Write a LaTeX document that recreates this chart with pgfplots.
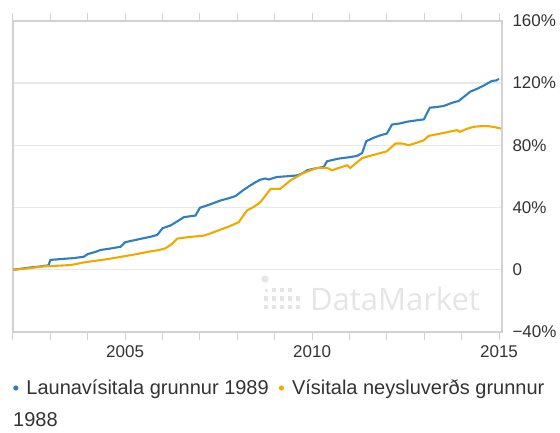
\documentclass[border=0pt]{standalone}
\usepackage{pgfplots}
\pgfplotsset{compat=1.18}
\usepackage{fontspec}
\setmainfont{Liberation Sans}
\newfontfamily\wmfont{Open Sans}
\definecolor{cblue}{RGB}{47,126,193}
\definecolor{corange}{RGB}{241,169,0}
\definecolor{gridc}{RGB}{232,232,232}
\definecolor{axc}{RGB}{210,210,210}
\definecolor{txt}{RGB}{51,51,51}
\definecolor{wm}{RGB}{229,229,229}
\begin{document}
\begin{tikzpicture}[x=1pt,y=1pt]
\begin{axis}[name=ax, at={(0pt,0pt)}, anchor=south west, scale only axis,
  width=489pt, height=311.3pt,
  xmin=2002, xmax=2015.08, ymin=-40, ymax=160,
  axis line style={axc, line width=1.6pt},
  ytick={-40,0,40,80,120,160}, yticklabels={−40\%,0,40\%,80\%,120\%,160\%},
  yticklabel pos=right, ymajorgrids, grid style={gridc, line width=1.2pt},
  ytick style={draw=none},
  xtick={2005,2010,2015}, xticklabels={2005,2010,2015},
  minor xtick={2002,2003,...,2015},
  tick align=outside, xtick style={axc, line width=1pt},
  major tick length=8pt, minor tick length=8pt,
  ticklabel style={font=\fontsize{17}{20}\selectfont, text=txt},
  yticklabel style={anchor=west, xshift=-1pt},
  xticklabel style={yshift=-2pt},
  legend columns=2,
  legend style={draw=none, fill=none, at={(0pt,-56pt)}, anchor=west,
    font=\fontsize{20}{24}\selectfont, text=txt, inner sep=0pt,
    /tikz/every odd column/.append style={column sep=6pt},
    /tikz/every even column/.append style={column sep=8pt}},
  legend cell align=left,
  legend image code/.code={\fill[#1,draw=none] (3pt,0pt) circle (2.6pt);},
]
\addplot[cblue, line width=2.1pt] coordinates {
(2002.00,0) (2002.20,0.6) (2002.47,1.5) (2002.70,2.0) (2002.87,2.6) (2002.95,2.8)
(2003.00,6.3) (2003.30,6.9) (2003.63,7.5) (2003.90,8.4) (2004.00,10.1)
(2004.20,11.4) (2004.34,12.7) (2004.60,13.6) (2004.88,14.8) (2005.00,17.7)
(2005.25,19.0) (2005.50,20.3) (2005.70,21.3) (2005.86,22.4) (2006.00,26.7)
(2006.21,28.4) (2006.43,31.6) (2006.57,33.8) (2006.88,34.8) (2007.00,39.8)
(2007.25,41.8) (2007.55,44.5) (2007.75,45.8) (2007.95,47.3) (2008.15,51.0)
(2008.35,54.2) (2008.50,56.4) (2008.62,57.9) (2008.75,58.6) (2008.84,58.0)
(2009.06,59.6) (2009.30,60.0) (2009.60,60.6) (2009.75,62.0) (2009.87,63.9)
(2010.10,65.2) (2010.31,66.0) (2010.40,69.7) (2010.71,71.4) (2011.00,72.3)
(2011.20,73.1) (2011.34,75.0) (2011.45,82.6) (2011.65,84.8) (2011.83,86.4)
(2012.00,87.5) (2012.14,93.3) (2012.35,94.0) (2012.54,95.1) (2012.80,96.0)
(2012.99,96.6) (2013.15,104.1) (2013.35,104.6) (2013.52,105.2) (2013.75,107.3)
(2013.92,108.4) (2014.08,111.5) (2014.23,114.4) (2014.42,116.3) (2014.59,118.3)
(2014.81,121.3) (2014.92,121.6) (2015.00,122.6)
};
\addlegendentry{Launavísitala grunnur 1989}
\addplot[corange, line width=2.1pt] coordinates {
(2002.00,0) (2002.30,0.6) (2002.60,1.5) (2002.85,2.2) (2003.20,2.6) (2003.54,3.0)
(2003.90,4.7) (2004.15,5.6) (2004.43,6.5) (2004.70,7.5) (2004.96,8.6)
(2005.32,10.1) (2005.68,11.8) (2005.90,12.6) (2006.08,13.8) (2006.25,16.5)
(2006.39,20.0) (2006.70,21.0) (2007.10,21.9) (2007.30,23.5) (2007.55,25.8)
(2007.80,28.0) (2008.04,30.6) (2008.15,34.5) (2008.26,38.1) (2008.45,40.5)
(2008.62,43.5) (2008.75,47.5) (2008.89,52.0) (2009.15,52.0) (2009.30,55.0)
(2009.42,57.4) (2009.60,59.8) (2009.73,61.7) (2009.95,63.8) (2010.13,65.4)
(2010.40,65.4) (2010.54,63.9) (2010.71,65.4) (2010.94,67.1) (2011.02,65.4)
(2011.20,69.0) (2011.34,71.8) (2011.65,73.8) (2012.00,76.1) (2012.23,81.1)
(2012.41,81.1) (2012.59,80.0) (2012.80,81.6) (2012.99,83.2) (2013.12,86.0)
(2013.50,87.8) (2013.88,89.7) (2013.95,88.6) (2014.15,90.6) (2014.32,91.8)
(2014.50,92.2) (2014.68,92.3) (2014.85,91.8) (2015.05,90.7)
};
\addlegendentry{Vísitala neysluverðs grunnur}
\end{axis}
\node[anchor=west, inner sep=0pt, font=\fontsize{20}{24}\selectfont, text=txt] at (0pt,-88pt) {1988};
\node[anchor=center, inner sep=0pt, font=\wmfont\fontsize{31}{36}\selectfont, text=wm] at (382pt,33pt) {DataMarket};
\fill[wm] (252pt,53pt) circle (3.6pt);
\foreach \i/\j/\s in {0/2/3, 1/2/4.5, 2/2/4.5, 3/2/4.5, 0/1/4.5, 1/1/4.5, 2/1/4.5, 3/1/4.5, 4/1/4.5, 0/0/4.5, 1/0/4.5, 2/0/4.5, 3/0/4.5, 4/0/4.5} {
  \fill[wm] ({253+\i*8-\s/2}, {25+\j*8.5-\s/2}) rectangle ++(\s,\s);
}
\pgfresetboundingbox
\useasboundingbox (-13pt,-100pt) rectangle (547pt,332pt);
\end{tikzpicture}
\end{document}
